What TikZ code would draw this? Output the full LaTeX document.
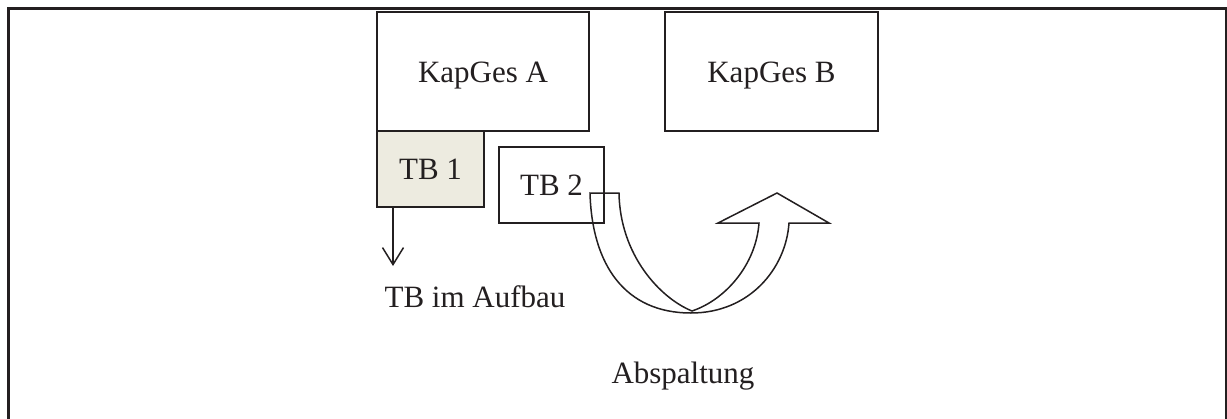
\documentclass[tikz,border=0pt]{standalone}
\usepackage{fontspec}
\setmainfont{Liberation Serif}
\usetikzlibrary{arrows.meta}
\definecolor{ink}{RGB}{35,31,32}
\definecolor{tbfill}{RGB}{237,235,224}
\begin{document}
\begin{tikzpicture}[x=1pt,y=-1pt,
  every node/.style={font=\fontsize{31}{37}\selectfont, text=ink},
  box/.style={draw=ink, line width=1.5pt, inner sep=0pt, text height=21pt, text depth=0pt},
  label/.style={anchor=base, inner sep=0pt},
  ln/.style={draw=ink, line width=1.5pt}]
\useasboundingbox (0,0) rectangle (1227,418);
% outer frame (open at bottom)
\draw[ink, line width=3pt] (8.5,430) -- (8.5,8.5) -- (1226,8.5) -- (1226,430);
% boxes
\node[box, minimum width=212pt, minimum height=119pt] (kapA) at (483,71.5) {KapGes A};
\node[box, minimum width=213pt, minimum height=119pt] (kapB) at (771.5,71.5) {KapGes B};
\node[box, fill=tbfill, minimum width=107pt, minimum height=76pt] (tb1) at (430.5,169) {TB 1};
\node[box, minimum width=105pt, minimum height=76pt] (tb2) at (551.5,185) {TB 2};
% labels
\node[label] (aufbau) at (475,307) {TB im Aufbau};
\node[label] (abspalt) at (683,383) {Abspaltung};
% arrow from TB 1
\coordinate (aufbauEnd) at (393,266);
\draw[ln, -{Straight Barb[length=17pt,width=21pt,line width=1.5pt]}] (tb1.south -| aufbauEnd) -- (aufbauEnd);
% U-turn arrow
\draw[ln, line join=miter]
  (619,193) -- (590,193)
  .. controls (592,265) and (625,313) .. (691,313)
  .. controls (750,313) and (786,268) .. (789,223)
  -- (829,223) -- (777,193) -- (718,223) -- (759,223)
  .. controls (756,265) and (725,300) .. (692,311)
  .. controls (660,298) and (620,255) .. (619,193) -- cycle;
\end{tikzpicture}
\end{document}
